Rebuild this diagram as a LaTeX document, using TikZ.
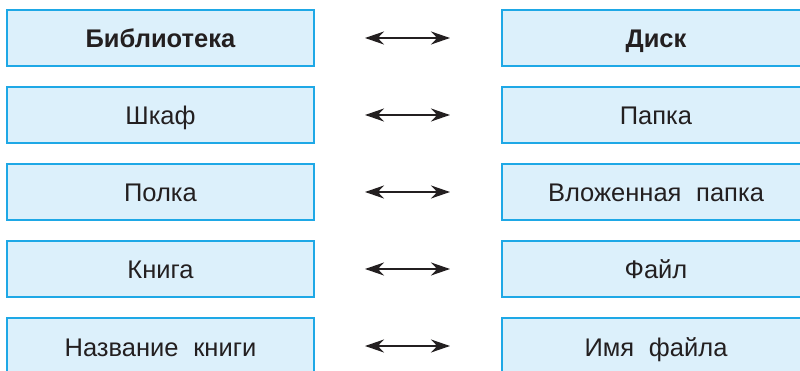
\documentclass[tikz,border=0pt]{standalone}
\usepackage{fontspec}
\setmainfont{Liberation Sans}
\usetikzlibrary{arrows.meta}
\definecolor{boxline}{HTML}{1EA8E6}
\definecolor{boxfill}{HTML}{DCF0FB}
\definecolor{ink}{HTML}{231F20}
\tikzset{
  cell/.style={draw=boxline, fill=boxfill, line width=2pt, minimum width=307pt, minimum height=56pt, inner sep=0pt, text height=20pt, text depth=0pt, text=ink, font=\fontsize{25.5}{28}\selectfont},
  rcell/.style={cell, minimum width=320pt},
  link/.style={draw=ink, line width=2pt, {Stealth[length=19pt,width=13pt]}-{Stealth[length=19pt,width=13pt]}}
}
\begin{document}
\begin{tikzpicture}[x=1pt,y=-1pt]
\useasboundingbox (0,0) rectangle (800,371);
\clip (0,0) rectangle (800,371);
\node[cell] (l1) at (160.5,38) {\textbf{Библиотека}};
\node[cell] (l2) at (160.5,115) {Шкаф};
\node[cell] (l3) at (160.5,192) {Полка};
\node[cell] (l4) at (160.5,269) {Книга};
\node[cell] (l5) at (160.5,346) {Название\hspace{0.3em} книги};
\node[rcell,anchor=west] (r1) at (501,38) {\hspace*{-12pt}\textbf{Диск}};
\node[rcell,anchor=west] (r2) at (501,115) {\hspace*{-12pt}Папка};
\node[rcell,anchor=west] (r3) at (501,192) {\hspace*{-12pt}Вложенная\hspace{0.3em} папка};
\node[rcell,anchor=west] (r4) at (501,269) {\hspace*{-12pt}Файл};
\node[rcell,anchor=west] (r5) at (501,346) {\hspace*{-12pt}Имя\hspace{0.3em} файла};
\coordinate (a1) at (365,38); \coordinate (b1) at (450,38);
\coordinate (a2) at (365,115); \coordinate (b2) at (450,115);
\coordinate (a3) at (365,192); \coordinate (b3) at (450,192);
\coordinate (a4) at (365,269); \coordinate (b4) at (450,269);
\coordinate (a5) at (365,346); \coordinate (b5) at (450,346);
\foreach \i in {1,...,5} { \draw[link] (a\i) -- (b\i); }
\end{tikzpicture}
\end{document}
